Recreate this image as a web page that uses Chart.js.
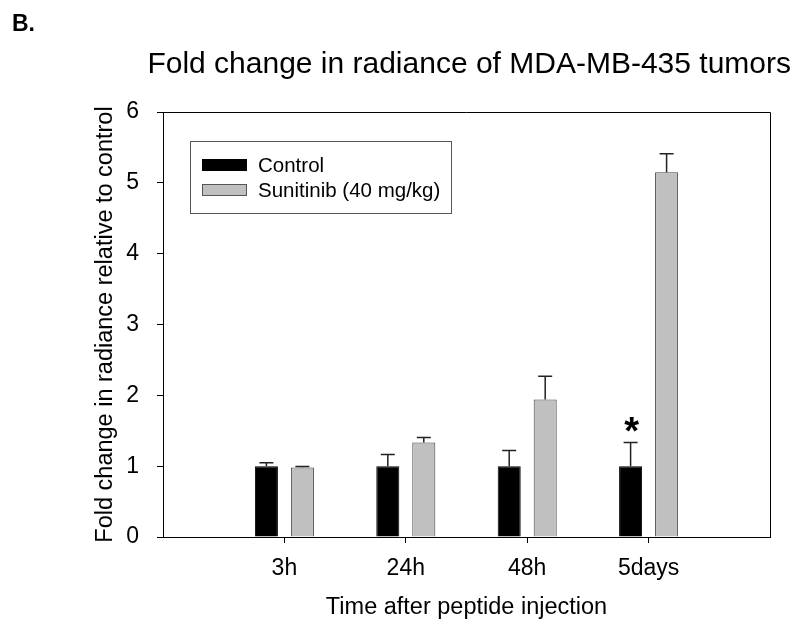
<!DOCTYPE html>
<html>
<head>
<meta charset="utf-8">
<script src="https://cdn.jsdelivr.net/npm/chart.js@4"></script>
<style>
  html, body { margin: 0; padding: 0; background: #fff; }
  #wrap { width: 800px; height: 628px; position: relative; }
</style>
</head>
<body>
<div id="wrap"><canvas id="c" width="800" height="628"></canvas></div>
<script>
const categories = ['3h', '24h', '48h', '5days'];
const controlValues = [1.0, 1.0, 1.0, 1.0];
const controlErrors = [0.05, 0.165, 0.22, 0.335];
const sunitinibValues = [0.98, 1.335, 1.94, 5.15];
const sunitinibErrors = [0.015, 0.07, 0.33, 0.26];
const significance = ['', '', '', '*'];
const yTicks = [0, 1, 2, 3, 4, 5, 6];
const seriesNames = ['Control', 'Sunitinib (40 mg/kg)'];

const FONT = "'Liberation Sans', Arial, sans-serif";
const labels = [''].concat(categories, ['']);
const pad = arr => [null].concat(arr, [null]);
const errs = [pad(controlErrors), pad(sunitinibErrors)];

const errorBarPlugin = {
  id: 'errorBars',
  afterDatasetsDraw(chart) {
    const ctx = chart.ctx;
    const y = chart.scales.y;
    ctx.save();
    chart.data.datasets.forEach((ds, di) => {
      const meta = chart.getDatasetMeta(di);
      meta.data.forEach((el, i) => {
        const v = ds.data[i];
        const e = errs[di][i];
        if (v == null || e == null) return;
        const yTop = y.getPixelForValue(v + e);
        const yBar = y.getPixelForValue(v);
        ctx.strokeStyle = '#222';
        ctx.lineWidth = 1.5;
        ctx.beginPath();
        ctx.moveTo(el.x, yBar);
        ctx.lineTo(el.x, yTop);
        ctx.moveTo(el.x - 7, yTop);
        ctx.lineTo(el.x + 7, yTop);
        ctx.stroke();
      });
    });
    // significance marks above control error bars
    const meta0 = chart.getDatasetMeta(0);
    significance.forEach((s, k) => {
      if (!s) return;
      const el = meta0.data[k + 1];
      const yTop = y.getPixelForValue(controlValues[k] + controlErrors[k]);
      ctx.fillStyle = '#000';
      ctx.font = 'bold 38px ' + FONT;
      ctx.textAlign = 'center';
      ctx.textBaseline = 'alphabetic';
      ctx.fillText(s, el.x + 1, yTop + 2);
    });
    ctx.restore();
  }
};

const framePlugin = {
  id: 'frame',
  afterDraw(chart) {
    const {ctx, chartArea: a} = chart;
    ctx.save();
    ctx.strokeStyle = '#000';
    ctx.lineWidth = 1;
    ctx.beginPath();
    ctx.moveTo(a.left, Math.round(a.top) + 0.5);
    ctx.lineTo(Math.round(a.right) + 0.5, Math.round(a.top) + 0.5);
    ctx.lineTo(Math.round(a.right) + 0.5, a.bottom);
    ctx.stroke();

    // panel letter
    ctx.fillStyle = '#000';
    ctx.font = 'bold 23px ' + FONT;
    ctx.textAlign = 'left';
    ctx.textBaseline = 'alphabetic';
    ctx.fillText('B.', 12, 31);

    // legend box
    const bx = 190.5, by = 141.5, bw = 261, bh = 72;
    ctx.strokeStyle = '#555';
    ctx.lineWidth = 1;
    ctx.strokeRect(bx, by, bw, bh);
    const swatches = [
      {fill: '#000', stroke: '#000'},
      {fill: '#c0c0c0', stroke: '#555'}
    ];
    const rows = [165, 190];
    ctx.font = '20.5px ' + FONT;
    ctx.textBaseline = 'middle';
    seriesNames.forEach((name, i) => {
      ctx.fillStyle = swatches[i].fill;
      ctx.fillRect(202, rows[i] - 6, 45, 12);
      ctx.strokeStyle = swatches[i].stroke;
      ctx.strokeRect(202.5, rows[i] - 5.5, 44, 11);
      ctx.fillStyle = '#000';
      ctx.fillText(name, 258, rows[i] + 1);
    });
    ctx.restore();
  }
};

new Chart(document.getElementById('c'), {
  type: 'bar',
  data: {
    labels: labels,
    datasets: [
      {
        label: seriesNames[0],
        data: pad(controlValues),
        backgroundColor: '#000',
        borderColor: '#000',
        borderWidth: 1,
        categoryPercentage: 0.593,
        barPercentage: 0.64
      },
      {
        label: seriesNames[1],
        data: pad(sunitinibValues),
        backgroundColor: '#c0c0c0',
        borderColor: '#444',
        borderWidth: 1,
        categoryPercentage: 0.593,
        barPercentage: 0.64
      }
    ]
  },
  options: {
    responsive: false,
    animation: false,
    devicePixelRatio: 1,
    layout: { padding: { left: 88, right: 9, top: 0, bottom: 0 } },
    plugins: {
      legend: { display: false },
      tooltip: { enabled: false },
      title: {
        display: true,
        fullSize: true,
        align: 'end',
        text: 'Fold change in radiance of MDA-MB-435 tumors',
        color: '#000',
        font: { family: FONT, size: 30, weight: 'normal' },
        padding: { top: 47, bottom: 29 }
      }
    },
    scales: {
      x: {
        type: 'category',
        offset: false,
        grid: {
          offset: false,
          drawOnChartArea: false,
          drawTicks: true,
          tickLength: 6,
          tickColor: c => (c.index === 0 || c.index === labels.length - 1) ? 'rgba(0,0,0,0)' : '#000',
          tickWidth: 1
        },
        border: { display: true, color: '#000', width: 1 },
        ticks: {
          autoSkip: false,
          maxRotation: 0,
          color: '#000',
          padding: 12,
          font: { family: FONT, size: 23 }
        },
        title: {
          display: true,
          text: 'Time after peptide injection',
          color: '#000',
          font: { family: FONT, size: 23.5 },
          padding: { top: 0, bottom: 6 }
        },
        afterFit: s => { s.height = 91; }
      },
      y: {
        min: 0,
        max: 6,
        afterBuildTicks: s => { s.ticks = yTicks.map(v => ({ value: v })); },
        grid: {
          drawOnChartArea: false,
          drawTicks: true,
          tickLength: 6,
          tickColor: '#000',
          tickWidth: 1
        },
        border: { display: true, color: '#000', width: 1 },
        ticks: {
          color: '#000',
          padding: 18,
          font: { family: FONT, size: 23 }
        },
        title: {
          display: true,
          text: 'Fold change in radiance relative to control',
          color: '#000',
          font: { family: FONT, size: 23.5 },
          padding: { top: 3, bottom: 0 }
        },
        afterFit: s => { s.width = 75; }
      },
      yRightSpacer: {
        position: 'right',
        display: true,
        grid: { display: false, drawTicks: false },
        border: { display: false },
        ticks: { display: false },
        afterFit: s => { s.width = 21; }
      }
    }
  },
  plugins: [errorBarPlugin, framePlugin]
});
</script>
</body>
</html>
